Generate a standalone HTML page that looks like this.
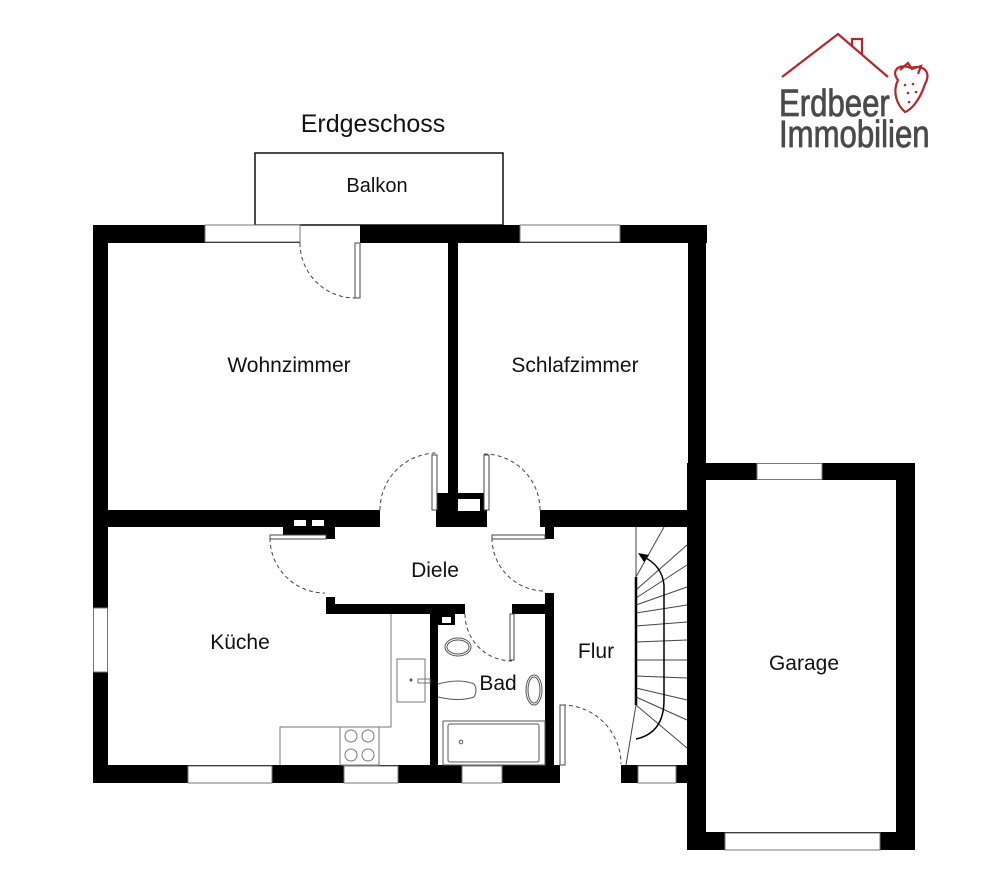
<!DOCTYPE html>
<html><head><meta charset="utf-8"><style>
html,body{margin:0;padding:0;background:#fff;}
svg{display:block;}
text{font-family:"Liberation Sans",sans-serif;fill:#111;}
</style></head><body>
<svg width="1000" height="883" viewBox="0 0 1000 883" xmlns="http://www.w3.org/2000/svg">
<rect width="1000" height="883" fill="#fff"/>
<g fill="none" stroke="#b3262b" stroke-width="2.2">
<polyline points="782,77 838,34 888,77"/>
<polyline points="852,46 852,39 862,39 862,55"/>
<path d="M898,80 C890,70 900,63 911,68 C923,64 932,72 925,84 C920,100 911,110 905,112 C897,105 892,92 898,80 Z"/>
<path d="M900,70 L908,63 L912,69 L921,66 L918,74"/>
</g>
<g fill="#b3262b"><circle cx="905" cy="85" r="1.3"/><circle cx="913" cy="84" r="1.3"/><circle cx="908" cy="93" r="1.3"/><circle cx="916" cy="92" r="1.3"/><circle cx="909" cy="102" r="1.3"/></g>
<g style="fill:#4a4a4a;stroke:#4a4a4a;stroke-width:0.8">
<text x="779" y="116" font-size="38" style="fill:#4a4a4a" transform="translate(779,0) scale(0.82,1) translate(-779,0)">Erdbeer</text>
<text x="779" y="147" font-size="38" style="fill:#4a4a4a" transform="translate(779,0) scale(0.82,1) translate(-779,0)">Immobilien</text>
</g>

<text x="373" y="132" font-size="25" text-anchor="middle">Erdgeschoss</text>
<rect x="255" y="153" width="248" height="72" fill="none" stroke="#111" stroke-width="1.5"/>
<text x="377" y="192" font-size="20" text-anchor="middle">Balkon</text>

<g fill="#000">
<rect x="93" y="225" width="207" height="18"/>
<rect x="360" y="225" width="347" height="18"/>
<rect x="93" y="225" width="15" height="558"/>
<rect x="688" y="225" width="18" height="300"/>
<rect x="93" y="765" width="467" height="18"/>
<rect x="621" y="765" width="85" height="18"/>
<rect x="108" y="510" width="272" height="17"/>
<rect x="283" y="527" width="52" height="12"/>
<rect x="448" y="243" width="10" height="270"/>
<rect x="436" y="493" width="51" height="34"/>
<rect x="540" y="510" width="150" height="17"/>
<rect x="545" y="527" width="9" height="12"/>
<rect x="326" y="597" width="9" height="16"/>
<rect x="326" y="604" width="139" height="10"/>
<rect x="512" y="604" width="42" height="10"/>
<rect x="430" y="604" width="8" height="179"/>
<rect x="438" y="613" width="17" height="12"/>
<rect x="545" y="593" width="9" height="190"/>
<rect x="687" y="463" width="228" height="17"/>
<rect x="687" y="463" width="19" height="387"/>
<rect x="896" y="463" width="19" height="387"/>
<rect x="687" y="832" width="228" height="18"/>
</g>
<g fill="#fff" stroke="#777" stroke-width="1">
<rect x="205" y="225" width="95" height="17"/>
<rect x="520" y="225" width="100" height="17"/>
<rect x="93.5" y="608" width="14" height="64"/>
<rect x="188" y="766" width="84" height="17"/>
<rect x="344" y="766" width="54" height="17"/>
<rect x="462" y="766" width="40" height="17"/>
<rect x="638" y="766" width="38" height="17"/>
<rect x="757" y="463.5" width="65" height="16"/>
<rect x="725" y="833" width="155" height="17"/>
<rect x="294" y="520" width="12" height="6" stroke="none"/>
<rect x="312" y="520" width="12" height="6" stroke="none"/>
<rect x="458" y="499" width="22" height="12" stroke="none"/>
<rect x="442" y="617" width="9" height="6" stroke="none"/>
</g>
<g fill="none" stroke="#444" stroke-width="1" stroke-dasharray="4,3">
<path d="M300,243 A55,55 0 0 0 355,298"/>
<path d="M380,510 A57,57 0 0 1 437,453"/>
<path d="M540,510 A56,56 0 0 0 484,454"/>
<path d="M270,538 A55,55 0 0 0 325,593"/>
<path d="M492,538 A53,53 0 0 0 545,591"/>
<path d="M465,614 A47,47 0 0 0 512,661"/>
<path d="M562,705 A59,59 0 0 1 621,764"/>
</g>
<g fill="#fff" stroke="#444" stroke-width="1">
<rect x="355" y="243" width="5" height="55"/>
<rect x="432" y="455" width="5" height="55"/>
<rect x="484" y="455" width="5" height="55"/>
<rect x="270" y="535" width="56" height="4"/>
<rect x="492" y="535" width="53" height="4"/>
<rect x="510" y="614" width="4" height="46"/>
<rect x="560" y="705" width="5" height="60"/>
</g>
<g fill="none" stroke="#777" stroke-width="1">
<polyline points="391,614 391,727 280,727 280,765"/>
<rect x="340" y="727" width="39" height="38"/>
<circle cx="351" cy="736" r="6"/><circle cx="368" cy="736" r="6"/>
<circle cx="351" cy="755" r="6"/><circle cx="368" cy="755" r="6"/>
<rect x="397" y="659" width="28" height="43"/>
<rect x="418" y="679" width="12" height="4"/>
</g>
<circle cx="411" cy="680" r="1.5" fill="#555"/>
<g fill="none" stroke="#555" stroke-width="1">
<ellipse cx="458" cy="647" rx="13" ry="9"/>
<ellipse cx="458" cy="647" rx="11" ry="7"/>
<path d="M438,684 Q460,678 474,684 Q478,690 474,697 Q460,702 438,697"/>
<rect x="443" y="721" width="102" height="44"/>
<rect x="448" y="724" width="91" height="38" rx="2"/>
<circle cx="461" cy="742" r="1.8"/>
<ellipse cx="534" cy="690" rx="8" ry="15"/>
<ellipse cx="534" cy="690" rx="6" ry="13"/>
</g>
<g stroke="#444" stroke-width="1" fill="none">
<line x1="636" y1="527" x2="636" y2="577"/>
<line x1="636" y1="577" x2="664" y2="527"/>
<line x1="636" y1="590" x2="687" y2="545"/>
<line x1="636" y1="598" x2="687" y2="565"/>
<line x1="636" y1="605" x2="687" y2="587"/>
<line x1="636" y1="613" x2="687" y2="605"/>
<line x1="636" y1="626" x2="687" y2="622"/>
<line x1="636" y1="642" x2="687" y2="640"/>
<line x1="636" y1="660" x2="687" y2="660"/>
<line x1="636" y1="676" x2="687" y2="678"/>
<line x1="636" y1="688" x2="687" y2="700"/>
<line x1="636" y1="697" x2="687" y2="720"/>
<line x1="636" y1="705" x2="687" y2="748"/>
<line x1="636" y1="705" x2="626" y2="765"/>
</g>
<line x1="636" y1="577" x2="636" y2="705" stroke="#000" stroke-width="2.5"/>
<path d="M636,739 Q664,733 664,700 L664,585 Q662,565 642,556" fill="none" stroke="#000" stroke-width="1.5"/>
<polygon points="638,553 649,555 644,562" fill="#000"/>

<g font-size="21" text-anchor="middle">
<text x="289" y="372">Wohnzimmer</text>
<text x="575" y="372">Schlafzimmer</text>
<text x="435" y="577">Diele</text>
<text x="240" y="649">Küche</text>
<text x="498" y="690">Bad</text>
<text x="596" y="658">Flur</text>
<text x="804" y="670">Garage</text>
</g>
</svg>
</body></html>
